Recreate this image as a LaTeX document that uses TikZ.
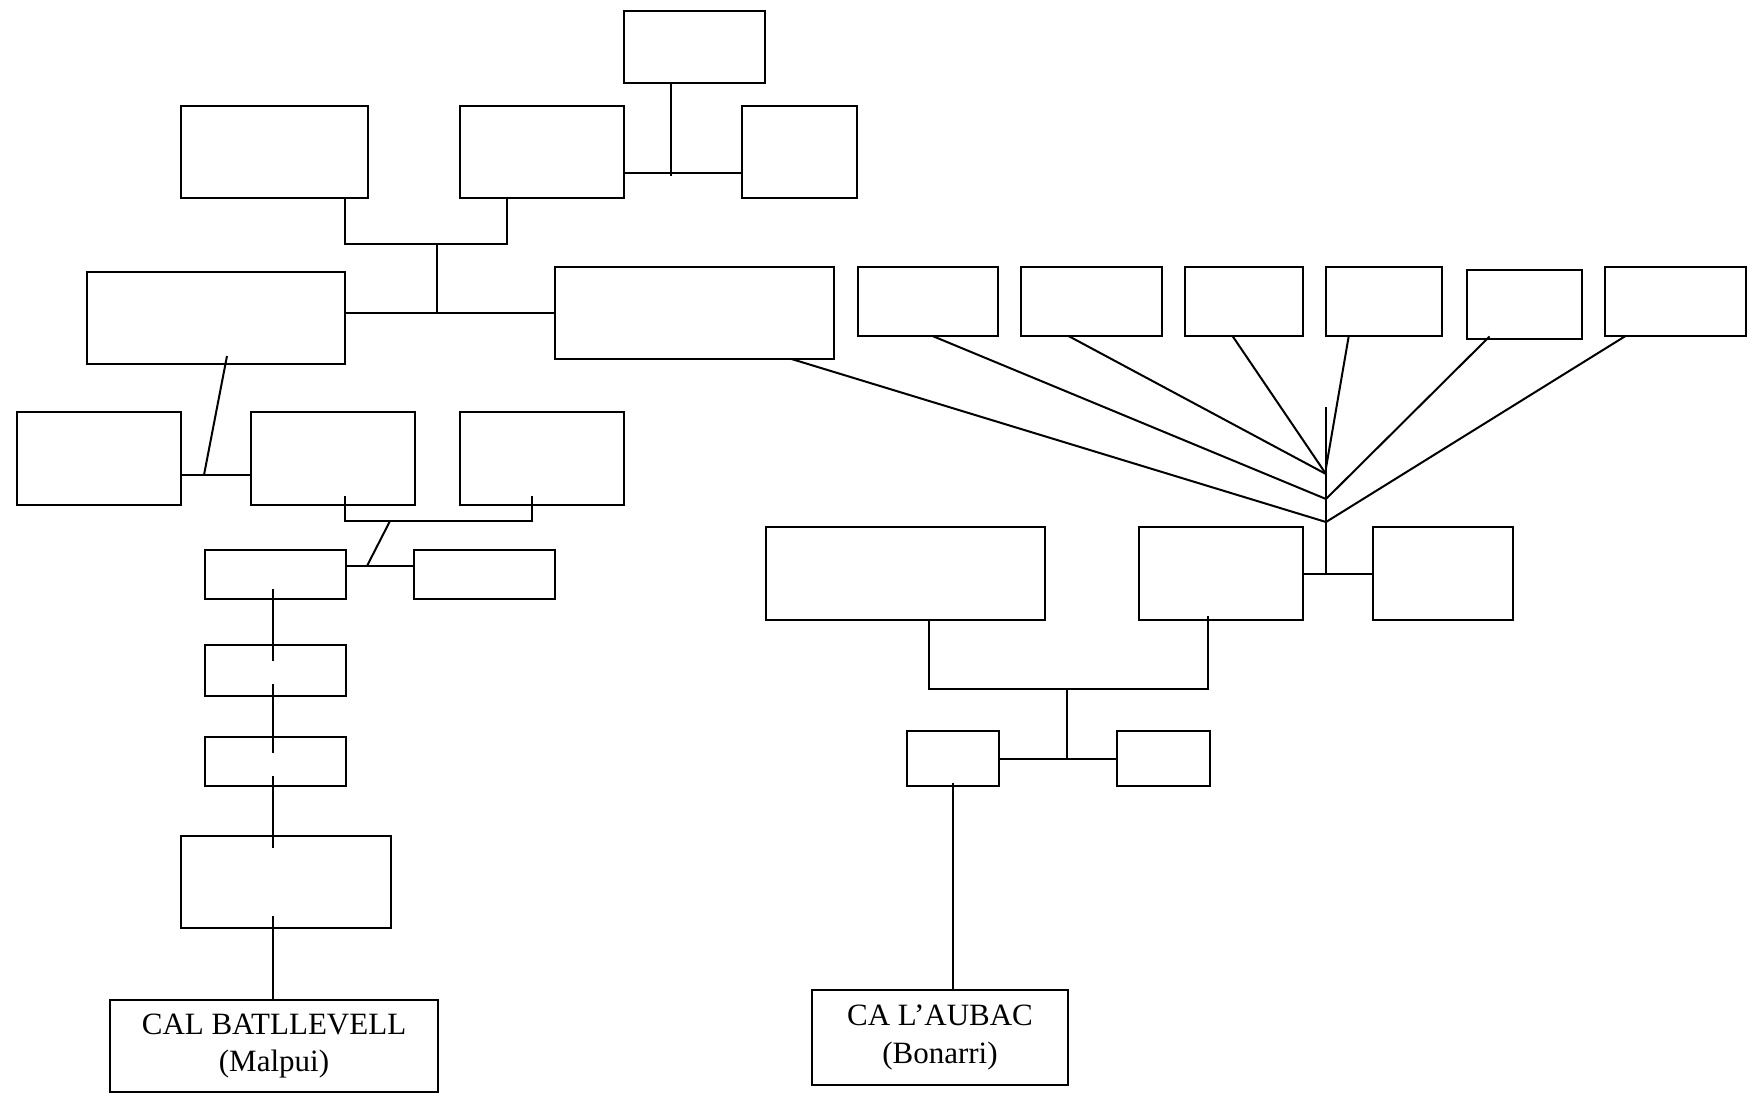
\documentclass[tikz,border=0pt]{standalone}
\usepackage{fontspec}
\setmainfont{Liberation Serif}
\usepackage{tikz}
\usetikzlibrary{positioning,calc}
\tikzstyle{box} = [rectangle, draw=black, line width=1pt, inner sep=0pt, outer sep=0pt, minimum width=82pt, minimum height=46pt]
\tikzstyle{kid} = [box, minimum width=70.5pt, minimum height=34.5pt]
\tikzstyle{slim} = [box, minimum width=70.5pt, minimum height=24.5pt]
\tikzstyle{house} = [box, align=center, font=\fontsize{15.5}{18.75}\selectfont]
\tikzstyle{link} = [draw, line width=1pt]

\begin{document}
\begin{tikzpicture}

% boxes =============================

% top generations
\node[box, minimum width=70.5pt, minimum height=36pt] (t0) {};
\useasboundingbox ($(t0.north west)+(-312pt,-541pt)$) rectangle ($(t0.north west)+(562.5pt,5.5pt)$);
\node[box, below left=11.5pt and 0pt of t0.south west] (a2) {};
\node[box, minimum width=57.5pt, right=59pt of a2] (a3) {};
\node[box, minimum width=93.5pt, left=46pt of a2] (a1) {};

% parents and siblings
\node[box, minimum width=129pt, below left=37pt and 11.5pt of a1.south east] (b1) {};
\node[box, minimum width=139.5pt, below right=34.5pt and 47.5pt of a2.south west] (b2) {};
\node[kid, minimum width=70pt, below right=0pt and 12pt of b2.north east] (s1) {};
\node[kid, right=11.5pt of s1] (s2) {};
\node[kid, minimum width=59pt, right=11.5pt of s2] (s3) {};
\node[kid, minimum width=57.75pt, right=11.5pt of s3] (s4) {};
\node[kid, minimum width=57.5pt, right=12.5pt of s4, yshift=-1.5pt] (s5) {};
\node[kid, right=11.5pt of s5, yshift=1.5pt] (s6) {};

% left branch
\node[box, minimum height=46.5pt, below=107pt of a2] (c3) {};
\node[box, minimum height=46.5pt, left=22.5pt of c3] (c2) {};
\node[box, minimum height=46.5pt, left=35pt of c2] (c1) {};
\node[slim, below right=22.5pt and 12pt of c1.south east] (d1) {};
\node[slim, right=34pt of d1] (d2) {};
\node[slim, minimum height=25.5pt, below=23pt of d1] (e1) {};
\node[slim, below=20.5pt of e1] (e2) {};
\node[box, minimum width=105pt, below=25pt of e2, xshift=5.25pt] (f) {};
\node[house, minimum width=164pt, below=36pt of f, xshift=-6pt] (cal1) {CAL BATLLEVELL\\(Malpui)};

% right branch
\node[box, minimum height=46.5pt, below left=95.5pt and 0pt of s3.south east] (h2) {};
\node[box, minimum width=70pt, minimum height=46.5pt, right=35pt of h2] (h3) {};
\node[box, minimum width=139.5pt, minimum height=46.5pt, left=47pt of h2] (h1) {};
\node[box, minimum width=46pt, minimum height=27.5pt, below right=55.5pt and 70.5pt of h1.south west] (g1) {};
\node[box, minimum width=46.5pt, minimum height=27.5pt, right=59pt of g1] (g2) {};
\node[house, minimum width=128pt, minimum height=47.5pt, below=102pt of g1, xshift=-6.5pt] (cal2) {CA L’AUBAC\\(Bonarri)};

% joints
\coordinate (j0) at ($(t0.south |- a2.east)+(-12pt,-12pt)$);
\coordinate (j1) at ($(a1.south)+(81.25pt,-23pt)$);
\coordinate (j2) at ($(c1.east)+(11.5pt,-8.25pt)$);
\coordinate (j3) at ($(c2.south)+(28.5pt,-8pt)$);
\coordinate (j4) at ($(d1.east)+(10.5pt,4.25pt)$);
\coordinate (j5) at ($(h1.south)+(80.75pt,-34.3pt)$);
\coordinate (k0) at ($(s4.west)+(0,-52.75pt)$);
\coordinate (k1) at ($(s4.west)+(0,-83.25pt)$);
\coordinate (k2) at ($(s4.west)+(0,-86.25pt)$);
\coordinate (k3) at ($(s4.west)+(0,-98.75pt)$);
\coordinate (k4) at ($(s4.west)+(0,-110.25pt)$);

%edges
\path[link] (t0.south -| j0) -- (j0);
\path[link] ($(a2.east)+(0,-10.5pt)$) -- ($(a3.west)+(0,-10.5pt)$);
\path[link] (b1.east |- a1.south) |- (j1) -| ($(a2.south)+(-17.5pt,0)$);
\path[link] (j1) -- (j1 |- b2.west);
\path[link] (b1.east |- b2.west) -- (b2.west);

\path[link] ($(b1.south)+(5.5pt,4pt)$) -- (j2);
\path[link] (c1.east |- j2) -- (c2.west |- j2);
\path[link] ($(c2.south)+(6pt,4.5pt)$) |- (j3) -| ($(c3.south)+(-5pt,4.5pt)$);
\path[link] (j3) -- (j4);
\path[link] (d1.east |- j4) -- (d2.west |- j4);

\path[link] ($(d1.south)+(-1pt,5pt)$) -- ($(e1.north)+(-1pt,-8pt)$);
\path[link] ($(e1.south)+(-1pt,6pt)$) -- ($(e2.north)+(-1pt,-8pt)$);
\path[link] ($(e2.south)+(-1pt,5pt)$) -- ($(e2.south |- f.north)+(-1pt,-6pt)$);
\path[link] ($(e2.south |- f.south)+(-1pt,6pt)$) -- ($(e2.south |- cal1.north)+(-1pt,0)$);

\path[link] ($(b2.south)+(48.5pt,0)$) -- (k4);
\path[link] ($(s1.south)+(2.25pt,0)$) -- (k3);
\path[link] ($(s2.south)+(-11.5pt,0)$) -- (k2);
\path[link] ($(s3.south)+(-5.75pt,0)$) -- (k2);
\path[link] ($(s4.south)+(-17.5pt,0)$) -- (k1);
\path[link] ($(s5.south)+(-17.25pt,1.25pt)$) -- (k3);
\path[link] ($(s6.south)+(-24.75pt,0)$) -- (k4);
\path[link] (k0) -- (k0 |- h2.east);

\path[link] (h2.east) -- (h3.west);
\path[link] ($(h1.south)+(11.75pt,0)$) |- (j5) -| ($(h2.south)+(-6.5pt,2pt)$);
\path[link] (j5) -- (j5 |- g1.east);
\path[link] (g1.east) -- (g2.west);
\path[link] ($(g1.south)+(0,1.5pt)$) -- (g1.south |- cal2.north);

\end{tikzpicture}
\end{document}
